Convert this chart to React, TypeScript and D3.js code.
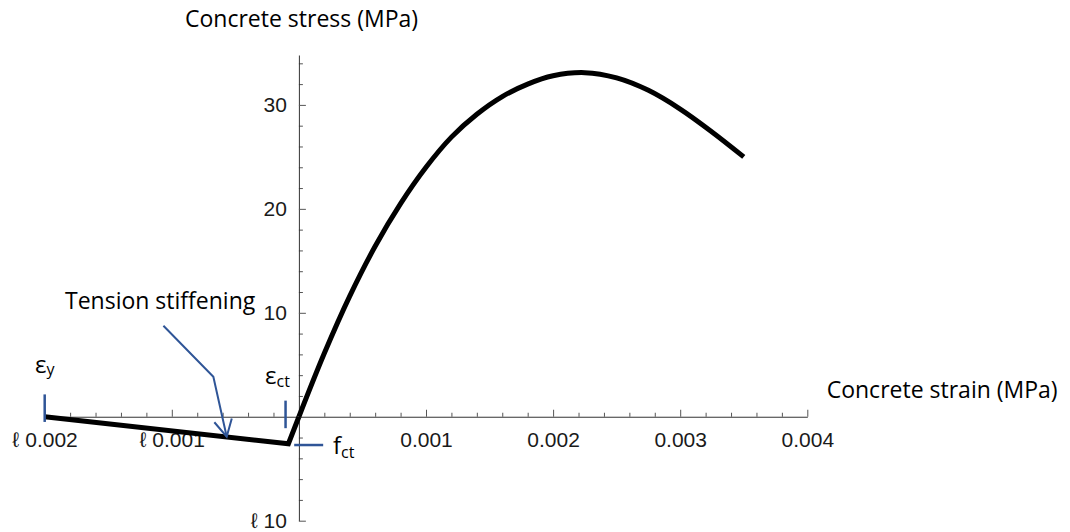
import { useEffect, useRef } from 'react'
import { select, scaleLinear, line, curveCatmullRom, axisBottom, axisLeft, range } from 'd3'

// tick values and the labels as they appear (the minus renders as a broken glyph)
const xTickValues = [-0.002, -0.001, 0.001, 0.002, 0.003, 0.004]
const xTickLabels = ['ℓ 0.002', 'ℓ 0.001', '0.001', '0.002', '0.003', '0.004']
const yTickValues = [-10, 10, 20, 30]
const yTickLabels = ['ℓ 10', '10', '20', '30']

// tension branch: linear up to fct, then tension stiffening back to zero at eps_y
const tensionStrain = [-0.002, -0.0000826, 0]
const tensionStress = [0, -2.6, 0]

// compression branch
const compressionStrain = [
  0, 0.0002, 0.0004, 0.0006, 0.0008, 0.001, 0.0012, 0.0014, 0.0016, 0.0018, 0.002, 0.00225,
  0.0025, 0.00275, 0.003, 0.00325, 0.0035,
]
const compressionStress = [
  0, 6.1, 11.6, 16.4, 20.5, 24.0, 26.9, 29.1, 30.8, 32.0, 32.8, 33.1, 32.6, 31.4, 29.6, 27.4, 25.0,
]

const BLUE = '#2F5597'
const TEXT_FONT = '"Open Sans", sans-serif'
const TICK_FONT = '"Liberation Sans", Arial, sans-serif'

const width = 1070
const height = 532

const x = scaleLinear().domain([-0.002, 0.004]).range([44.7, 807.3])
const y = scaleLinear().domain([-10, 34.8]).range([520.7, 55])

const xMinor = range(-0.002, 0.00401, 0.0002)
  .map((v) => Math.round(v * 1e5) / 1e5)
  .filter((v) => v !== 0 && !xTickValues.some((m) => Math.abs(m - v) < 1e-9))
const yMinor = range(-10, 35, 2).filter((v) => v !== 0 && !yTickValues.includes(v))

const App = () => {
  const xAxisRef = useRef<SVGGElement>(null)
  const yAxisRef = useRef<SVGGElement>(null)

  useEffect(() => {
    const gx = select(xAxisRef.current)
    gx.selectAll('*').remove()
    // minor ticks first, then majors with labels
    gx.append('g')
      .call(axisBottom(x).tickValues(xMinor).tickSize(-4).tickSizeOuter(0).tickFormat(() => ''))
      .call((g) => g.select('.domain').remove())
    gx.append('g').call(
      axisBottom(x)
        .tickValues(xTickValues)
        .tickSize(-7)
        .tickSizeOuter(0)
        .tickPadding(15)
        // @ts-expect-error index based label lookup
        .tickFormat((_d, i) => xTickLabels[i])
    )
    gx.selectAll('.tick line').attr('stroke', '#555')
    gx.select('.domain').attr('stroke', '#333')
    gx.selectAll('text')
      .attr('font-size', 21)
      .attr('font-family', TICK_FONT)
      .attr('fill', '#1a1a1a')

    const gy = select(yAxisRef.current)
    gy.selectAll('*').remove()
    gy.append('g')
      .call(axisLeft(y).tickValues(yMinor).tickSize(-4).tickSizeOuter(0).tickFormat(() => ''))
      .call((g) => g.select('.domain').remove())
    gy.append('g').call(
      axisLeft(y)
        .tickValues(yTickValues)
        .tickSize(-7)
        .tickSizeOuter(0)
        .tickPadding(12)
        // @ts-expect-error index based label lookup
        .tickFormat((_d, i) => yTickLabels[i])
    )
    gy.selectAll('.tick line').attr('stroke', '#555')
    gy.select('.domain').attr('stroke', '#333')
    gy.selectAll('text')
      .attr('font-size', 21)
      .attr('font-family', TICK_FONT)
      .attr('fill', '#1a1a1a')
  }, [])

  const tensionPath = line<number>()
    .x((_d, i) => x(tensionStrain[i]))
    .y((d) => y(d))(tensionStress)

  const compressionPath = line<number>()
    .x((_d, i) => x(compressionStrain[i]))
    .y((d) => y(d))
    .curve(curveCatmullRom.alpha(0.5))(compressionStress)

  // pointer for "Tension stiffening"
  const pointer = [
    [x(-0.001066), y(8.75)],
    [x(-0.000673), y(3.85)],
    [x(-0.000568), y(-1.92)],
  ]
  const tip = pointer[2]
  const back = pointer[1]
  const len = Math.hypot(back[0] - tip[0], back[1] - tip[1])
  const ux = (back[0] - tip[0]) / len
  const uy = (back[1] - tip[1]) / len
  const arm = (ang: number) => {
    const a = (ang * Math.PI) / 180
    const rx = ux * Math.cos(a) - uy * Math.sin(a)
    const ry = ux * Math.sin(a) + uy * Math.cos(a)
    return [tip[0] + rx * 19, tip[1] + ry * 19]
  }
  const a1 = arm(28)
  const a2 = arm(-28)

  return (
    <svg
      width={width}
      height={height}
      style={{ position: 'absolute', left: 0, top: 0, background: '#fff' }}
    >
      <g ref={xAxisRef} transform={`translate(0,${y(0)})`} />
      <g ref={yAxisRef} transform={`translate(${x(0)},0)`} />

      <path d={tensionPath ?? ''} fill="none" stroke="#000" strokeWidth={5} strokeLinejoin="miter" />
      <path d={compressionPath ?? ''} fill="none" stroke="#000" strokeWidth={5} />

      {/* axis titles */}
      <text x={185} y={26.7} fontFamily={TEXT_FONT} fontSize={23} fill="#000">
        Concrete stress (MPa)
      </text>
      <text x={826.7} y={398} fontFamily={TEXT_FONT} fontSize={23} fill="#000">
        Concrete strain (MPa)
      </text>

      {/* annotations */}
      <text x={65} y={309.3} fontFamily={TEXT_FONT} fontSize={23} fill="#000">
        Tension stiffening
      </text>
      <polyline
        points={pointer.map((p) => p.join(',')).join(' ')}
        fill="none"
        stroke={BLUE}
        strokeWidth={2}
      />
      <polyline
        points={[a1, tip, a2].map((p) => p.join(',')).join(' ')}
        fill="none"
        stroke={BLUE}
        strokeWidth={2}
      />

      <line x1={x(-0.002)} x2={x(-0.002)} y1={y(2.15)} y2={y(-0.5)} stroke={BLUE} strokeWidth={2.5} />
      <text x={35} y={373.3} fontFamily={TEXT_FONT} fontSize={24} fill="#000">
        ε<tspan fontSize={16} dy={2}>y</tspan>
      </text>

      <line x1={x(-0.000105)} x2={x(-0.000105)} y1={y(1.55)} y2={y(-1.1)} stroke={BLUE} strokeWidth={2.5} />
      <text x={265} y={384} fontFamily={TEXT_FONT} fontSize={24} fill="#000">
        ε<tspan fontSize={16} dy={3}>ct</tspan>
      </text>

      <line x1={x(-0.000037)} x2={x(0.000191)} y1={y(-2.72)} y2={y(-2.72)} stroke={BLUE} strokeWidth={2.5} />
      <text x={333} y={454} fontFamily={TEXT_FONT} fontSize={24} fill="#000">
        f<tspan fontSize={16} dy={4}>ct</tspan>
      </text>
    </svg>
  )
}

export default App
